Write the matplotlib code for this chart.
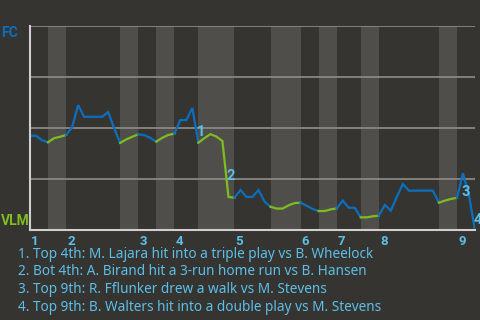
import matplotlib
matplotlib.use("Agg")
import matplotlib.pyplot as plt
import numpy as np

# FC win probability after each plate appearance (0 = VLM wins, 1 = FC wins)
wp = [0.462, 0.462, 0.44, 0.43, 0.45, 0.457, 0.466, 0.503, 0.612, 0.555,
      0.555, 0.555, 0.555, 0.578, 0.498, 0.427, 0.444, 0.457, 0.469, 0.465,
      0.452, 0.433, 0.452, 0.466, 0.472, 0.539, 0.539, 0.598, 0.428, 0.45,
      0.47, 0.458, 0.436, 0.162, 0.158, 0.196, 0.162, 0.162, 0.196, 0.139,
      0.114, 0.105, 0.105, 0.121, 0.132, 0.134, 0.119, 0.103, 0.093, 0.093,
      0.101, 0.106, 0.144, 0.109, 0.109, 0.062, 0.062, 0.067, 0.07, 0.123,
      0.095, 0.163, 0.225, 0.193, 0.193, 0.193, 0.193, 0.193, 0.134, 0.144,
      0.152, 0.158, 0.278, 0.17, 0.0]
# plate appearances per half inning (top 1, bot 1, top 2, ...)
half_pa = [3, 3, 9, 3, 3, 3, 4, 6, 6, 5, 3, 3, 4, 3, 10, 3, 3]
inning_labels = ["1", "2", "3", "4", "5", "6", "7", "8", "9"]
event_idx = [28, 33, 72, 74]
event_marks = ["1", "2", "3", "4"]
event_texts = [
    "1. Top 4th: M. Lajara hit into a triple play vs B. Wheelock",
    "2. Bot 4th: A. Birand hit a 3-run home run vs B. Hansen",
    "3. Top 9th: R. Fflunker drew a walk vs M. Stevens",
    "4. Top 9th: B. Walters hit into a double play vs M. Stevens",
]
team_top = "FC"
team_bottom = "VLM"

BG = "#363430"
BAND = "#4f4e4b"
GRID = "#8e8d8a"
SPINE = "#cfcfcf"
BLUE = "#0b6fbf"
GREEN = "#7dbd21"
LABEL = "#5bbfe9"
FONT = "Noto Sans"
BFONT = "Roboto"

fig = plt.figure(figsize=(4.8, 3.2), dpi=100, facecolor=BG)
ax = fig.add_axes([30 / 480, 1 - 230 / 320, 445 / 480, 204 / 320])
ax.set_facecolor(BG)
ax.set_xlim(0, len(wp) - 1)
ax.set_ylim(0, 1)

bounds = np.concatenate([[0], np.cumsum(half_pa)])
for h in range(len(half_pa)):
    s, e = bounds[h], bounds[h + 1]
    if h % 2 == 1:
        ax.axvspan(s, e, color=BAND, lw=0, zorder=0)

for y in [0.25, 0.5, 0.75, 1.0]:
    ax.axhline(y, color=GRID, lw=1.2, zorder=1)

x = np.arange(len(wp))
for h in range(len(half_pa)):
    s, e = bounds[h], bounds[h + 1]
    col = BLUE if h % 2 == 0 else GREEN
    ax.plot(x[s:e + 1], wp[s:e + 1], color=col, lw=1.6, zorder=3,
            solid_joinstyle="miter")

for sp in ["top", "right"]:
    ax.spines[sp].set_visible(False)
for sp in ["left", "bottom"]:
    ax.spines[sp].set_color(SPINE)
    ax.spines[sp].set_linewidth(1.5)
    ax.spines[sp].set_zorder(4)
ax.set_xticks([])
ax.set_yticks([])

# inning labels at start of each inning
for k, lab in enumerate(inning_labels):
    xs = bounds[2 * k]
    ax.annotate(lab, xy=(xs, 0), xycoords="data", xytext=(0.8, -8),
                textcoords="offset points", ha="left", va="center",
                color=LABEL, fontsize=9.5, fontweight="bold", family=BFONT)

# event markers
for idx, m in zip(event_idx, event_marks):
    mx = idx - 0.5
    my = (wp[idx - 1] + wp[idx]) / 2
    ax.annotate(m, xy=(mx, my), xycoords="data", xytext=(4, -5),
                textcoords="offset points", ha="center", va="center",
                color=LABEL, fontsize=10.5, fontweight="bold", family=BFONT,
                zorder=5)

fig.text(10 / 480, 1 - 33 / 320, team_top, color=BLUE, fontsize=10,
         fontweight="bold", family=BFONT, ha="center", va="center")
fig.text(15 / 480, 1 - 221 / 320, team_bottom, color=GREEN, fontsize=10,
         fontweight="bold", family=BFONT, ha="center", va="center")

for k, t in enumerate(event_texts):
    fig.text(18 / 480, 1 - (254 + 17.8 * k) / 320, t, color=LABEL,
             fontsize=9.8, family=FONT, ha="left", va="center")

fig.savefig("out.png", dpi=100, facecolor=BG)
